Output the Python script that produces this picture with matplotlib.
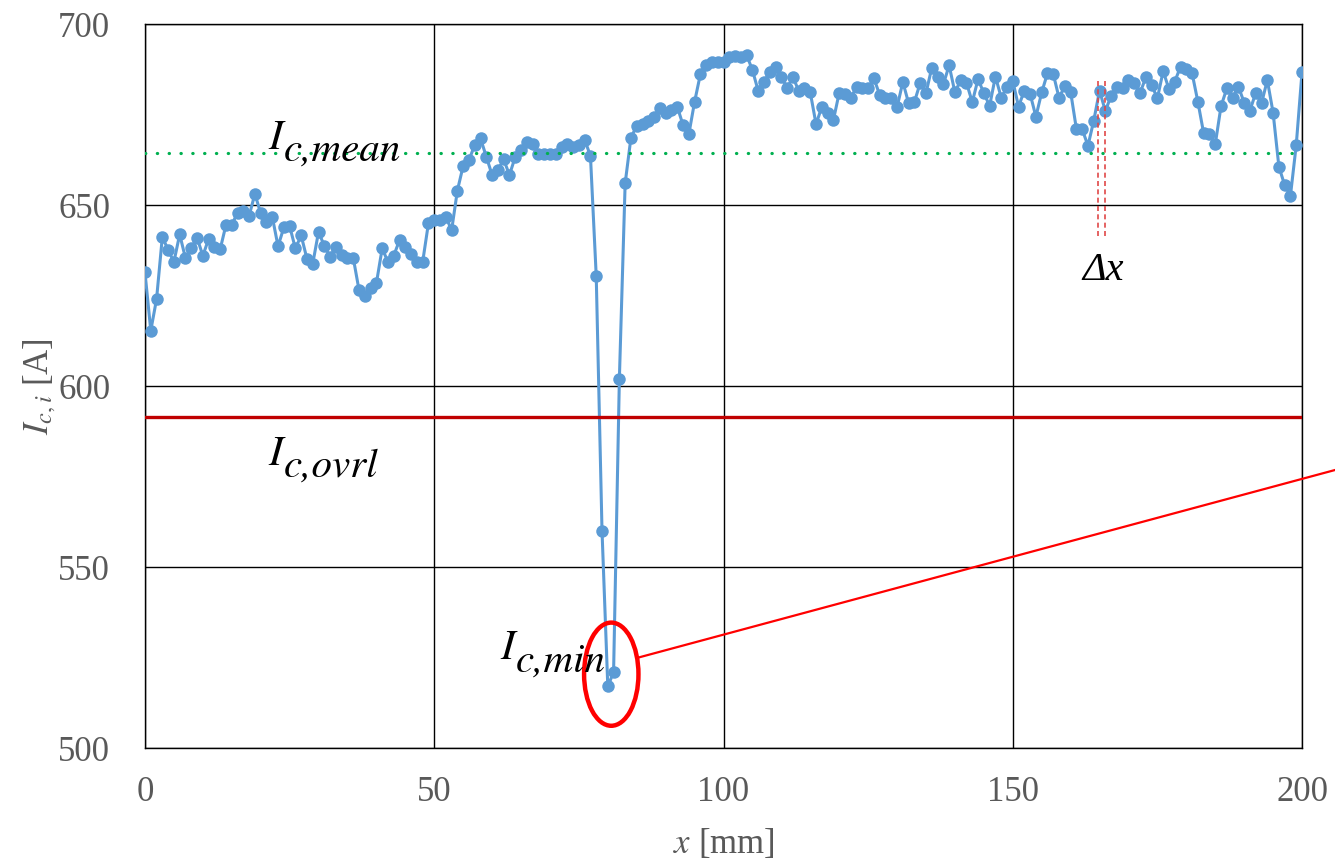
import numpy as np
import matplotlib
matplotlib.use('Agg')
import matplotlib.pyplot as plt
from matplotlib.patches import Ellipse

plt.rcParams['font.family'] = ['Liberation Serif', 'DejaVu Serif']
plt.rcParams['mathtext.fontset'] = 'stix'

LINE_COLOR = '#5B9BD5'
TEXT_GRAY = '#595959'
LABEL_FONT = 'STIXGeneral'

# measured critical current per position (1 mm step)
position_mm = np.arange(0, 201)
ic_values = [
    631.4, 615.3, 624.0, 641.2, 637.6, 634.3, 641.9, 635.3, 638.0, 641.0,
    636.0, 640.6, 638.3, 637.8, 644.5, 644.5, 647.9, 648.4, 647.0, 653.1,
    647.7, 645.2, 646.8, 638.6, 643.8, 644.2, 638.0, 641.6, 635.1, 633.8,
    642.6, 638.7, 635.7, 638.5, 636.1, 635.4, 635.4, 626.5, 624.9, 627.0,
    628.4, 638.0, 634.3, 636.0, 640.3, 638.5, 636.6, 634.3, 634.3, 645.0,
    646.0, 646.0, 646.8, 643.0, 654.0, 660.8, 662.4, 666.6, 668.4, 663.3,
    658.3, 659.7, 662.6, 658.3, 663.3, 665.2, 667.5, 666.9, 664.0, 664.0,
    664.0, 664.0, 666.1, 666.9, 666.1, 666.5, 668.0, 663.6, 630.4, 560.0,
    517.0, 521.0, 602.0, 656.0, 668.6, 671.9, 672.3, 673.2, 674.2, 676.7,
    675.3, 676.2, 677.2, 672.1, 669.5, 678.5, 686.1, 688.7, 689.4, 689.4,
    689.4, 690.8, 691.3, 691.0, 691.4, 687.3, 681.5, 684.1, 686.7, 688.2,
    685.3, 682.4, 685.3, 681.6, 682.4, 681.1, 672.3, 677.2, 675.5, 673.5,
    681.0, 680.6, 679.5, 682.7, 682.2, 682.2, 685.0, 680.4, 679.7, 679.7,
    677.0, 684.0, 678.1, 678.5, 683.7, 680.9, 687.9, 685.5, 683.3, 688.6,
    681.1, 684.5, 683.8, 678.4, 684.8, 680.9, 677.4, 685.5, 679.7, 682.5,
    684.3, 677.2, 681.6, 680.7, 674.4, 681.1, 686.4, 686.2, 679.6, 682.9,
    681.3, 671.0, 670.9, 666.4, 673.3, 681.6, 676.0, 680.1, 682.7, 682.4,
    684.5, 683.6, 680.9, 685.3, 683.1, 679.5, 687.0, 682.0, 684.1, 688.2,
    687.5, 686.4, 678.5, 669.8, 669.7, 666.8, 677.3, 682.2, 679.5, 682.7,
    678.3, 676.1, 681.0, 678.1, 684.5, 675.5, 660.6, 655.5, 652.6, 666.6,
    686.7,
]

ic_mean = 664.4
ic_ovrl = 591.5
ic_min_pos = 80.6
ic_min_val = 520.4
dx_lines = [164.7, 165.9]


def big_label(ax, x, y, sub):
    # "I" with a nearly full-size subscript, like an equation-editor label
    t = ax.text(x, y, 'I', fontsize=31, fontstyle='italic', family=LABEL_FONT,
                va='baseline', zorder=6)
    ax.annotate(sub, xy=(1.0, 0.0), xycoords=t, xytext=(1, -2),
                textcoords='offset points', fontsize=29.5, fontstyle='italic',
                family=LABEL_FONT, va='baseline', zorder=6)


fig = plt.figure(figsize=(13.35, 8.61), dpi=100)
ax = fig.add_axes([0.1086, 0.1312, 0.8667, 0.8409])

ax.plot(position_mm, ic_values, color=LINE_COLOR, lw=2.2, marker='o',
        markersize=9, markeredgewidth=0, zorder=3)

ax.axhline(ic_mean, color='#00B050', lw=2.3, linestyle=(0, (0.1, 3.6)),
           dash_capstyle='round', zorder=4)
ax.axhline(ic_ovrl, color='#C00000', lw=2.4, zorder=4)

for xv in dx_lines:
    ax.plot([xv, xv], [641.5, 684.5], color='#E04848', lw=1.2,
            linestyle=(0, (3, 2)), zorder=5)

ell = Ellipse((ic_min_pos, ic_min_val), width=9.4, height=28.5, fill=False,
              edgecolor='#FF0000', lw=3.2, zorder=5)
ax.add_patch(ell)
ax.plot([85.3, 205.7], [525.0, 576.8], color='#FF0000', lw=1.6,
        clip_on=False, zorder=5)

big_label(ax, 21.3, 665.5, 'c,mean')
big_label(ax, 21.3, 578.3, 'c,ovrl')
big_label(ax, 61.4, 524.5, 'c,min')
ax.text(162.0, 629.3, '\u0394x', fontsize=29, fontstyle='italic',
        family='Liberation Serif', zorder=6)

ax.set_xlim(0, 200)
ax.set_ylim(500, 700)
ax.set_xticks([0, 50, 100, 150, 200])
ax.set_yticks([500, 550, 600, 650, 700])
ax.grid(True, color='black', lw=1.0)
ax.set_axisbelow(True)
for sp in ax.spines.values():
    sp.set_color('black')
    sp.set_linewidth(1.0)
ax.tick_params(axis='y', length=0, labelsize=25, labelcolor=TEXT_GRAY, pad=25)
ax.tick_params(axis='x', length=0, labelsize=25, labelcolor=TEXT_GRAY, pad=20)

ax.set_xlabel(r'$x$ [mm]', fontsize=25, color=TEXT_GRAY, labelpad=13)
ax.set_ylabel(r'$I_{c,i}$ [A]', fontsize=25, color=TEXT_GRAY, labelpad=0)

fig.savefig('out.png', dpi=100)
